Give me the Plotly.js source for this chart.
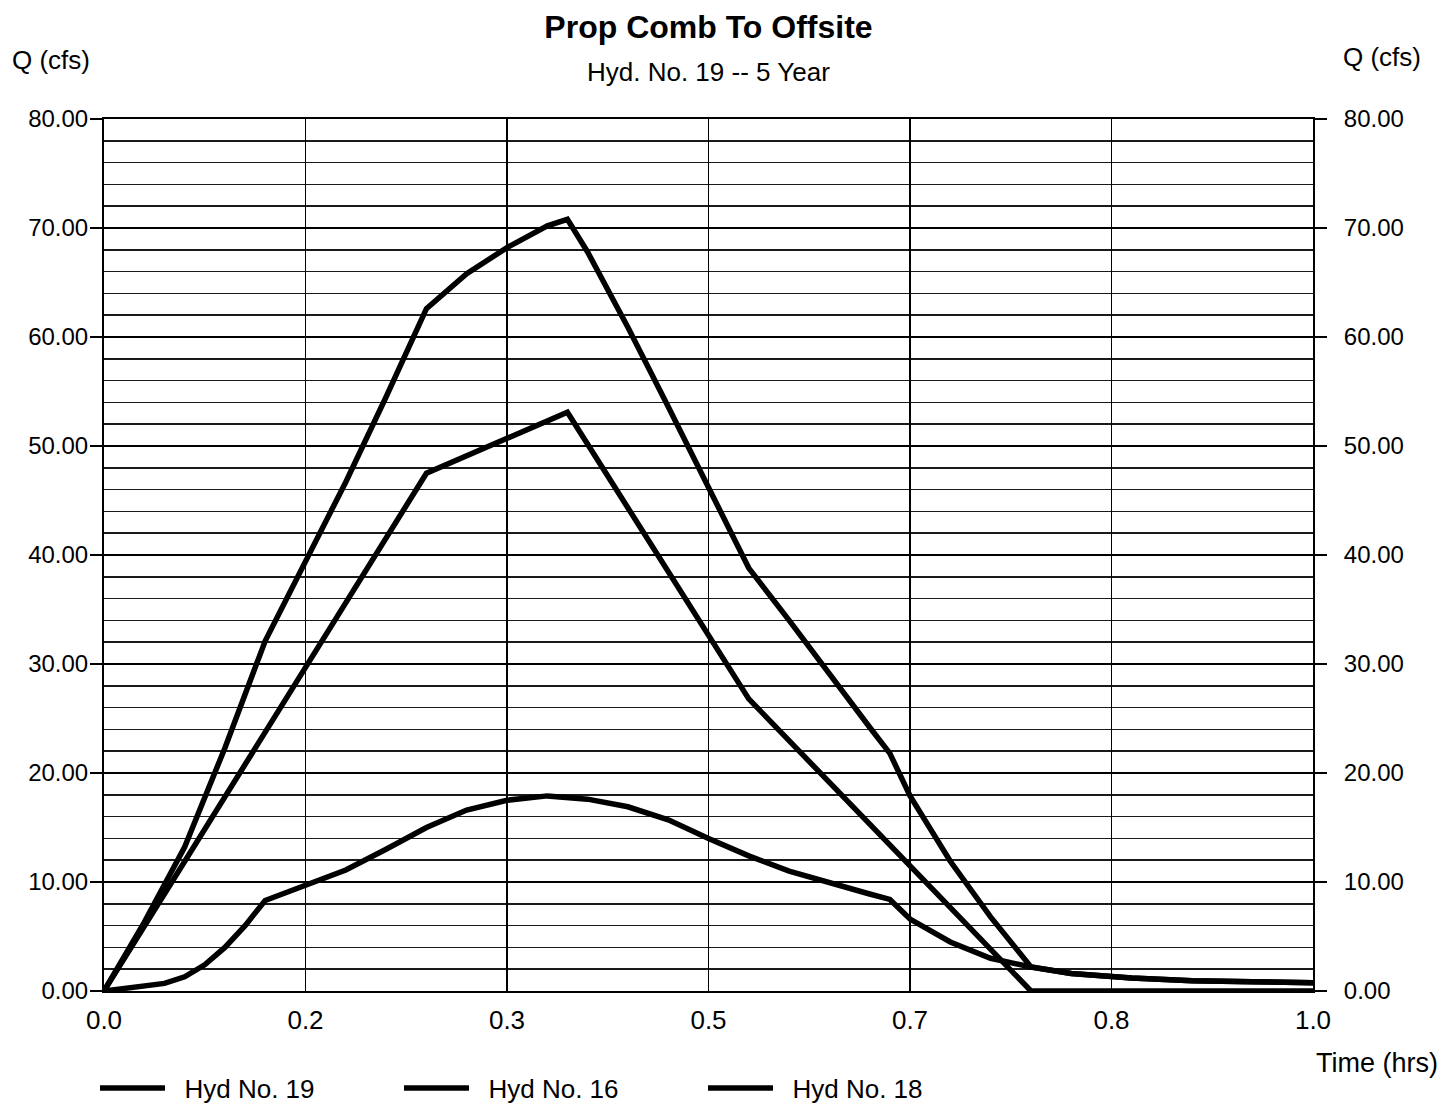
<!DOCTYPE html>
<html>
<head>
<meta charset="utf-8">
<script src="https://cdn.plot.ly/plotly-3.0.1.min.js"></script>
<style>
  html, body { margin: 0; padding: 0; background: #ffffff; }
  #chart { width: 1440px; height: 1104px; }
</style>
</head>
<body>
<div id="chart"></div>
<script>
// ---- Data ----
const seriesNames = ["Hyd No. 19", "Hyd No. 16", "Hyd No. 18"];

// Hyd No. 19 (combined)
const hours19 = [0, 0.0333, 0.0667, 0.1, 0.1333, 0.1667, 0.2, 0.2333, 0.2667, 0.3, 0.3333, 0.3667, 0.3833, 0.4, 0.4333, 0.4667, 0.5, 0.5333, 0.5667, 0.6, 0.6333, 0.65, 0.6667, 0.7, 0.7333, 0.7667, 0.8, 0.85, 0.9, 0.95, 1.0];
const q19 = [0, 6.3, 13.2, 22.3, 32.1, 39.3, 46.7, 54.5, 62.6, 65.8, 68.2, 70.2, 70.8, 67.8, 60.9, 53.6, 46.1, 38.8, 34.0, 29.0, 24.2, 21.8, 17.9, 11.9, 6.8, 2.2, 1.6, 1.2, 0.95, 0.85, 0.75];

// Hyd No. 16
const hours16 = [0, 0.2667, 0.3833, 0.5333, 0.7667, 1.0];
const q16 = [0, 47.5, 53.1, 26.8, 0, 0];

// Hyd No. 18
const hours18 = [0, 0.0167, 0.0333, 0.05, 0.0667, 0.0833, 0.1, 0.1167, 0.1333, 0.15, 0.1667, 0.2, 0.2333, 0.2667, 0.3, 0.3333, 0.3667, 0.4, 0.4333, 0.4667, 0.5, 0.5333, 0.5667, 0.6, 0.6333, 0.65, 0.6667, 0.7, 0.7333, 0.7667, 0.8, 0.85, 0.9, 0.95, 1.0];
const q18 = [0, 0.2, 0.4, 0.7, 1.3, 2.4, 4.0, 6.0, 8.3, 9.0, 9.6, 11.1, 13.0, 15.0, 16.6, 17.5, 17.9, 17.6, 16.9, 15.7, 14.0, 12.4, 11.0, 9.9, 8.9, 8.4, 6.6, 4.5, 3.0, 2.2, 1.6, 1.2, 0.95, 0.85, 0.75];

// Axis ticks
const xTickVals = [0, 1/6, 2/6, 3/6, 4/6, 5/6, 1];
const xTickText = ["0.0", "0.2", "0.3", "0.5", "0.7", "0.8", "1.0"];
const yTickVals = [0, 10, 20, 30, 40, 50, 60, 70, 80];
const yTickText = ["0.00", "10.00", "20.00", "30.00", "40.00", "50.00", "60.00", "70.00", "80.00"];

// ---- Chart ----
const FONT = "Liberation Sans, Arial, Helvetica, sans-serif";
const lineStyle = { color: "#000000", width: 5.5 };
const PAD = "\u00a0\u00a0";

const traces = [
  { x: hours19, y: q19, name: PAD + seriesNames[0], type: "scatter", mode: "lines", line: lineStyle },
  { x: hours16, y: q16, name: PAD + seriesNames[1], type: "scatter", mode: "lines", line: lineStyle },
  { x: hours18, y: q18, name: PAD + seriesNames[2], type: "scatter", mode: "lines", line: lineStyle },
  { x: [0, 1], y: [0, 80], yaxis: "y2", type: "scatter", mode: "lines", line: { width: 0, color: "rgba(0,0,0,0)" }, showlegend: false, hoverinfo: "skip" }
];

const yCommon = {
  range: [0, 80],
  tickmode: "array",
  tickvals: yTickVals,
  ticktext: yTickText,
  ticks: "outside",
  ticklen: 12,
  tickwidth: 1.5,
  tickcolor: "#000000",
  tickfont: { family: FONT, size: 24, color: "#000000" },
  zeroline: false,
  automargin: false,
  fixedrange: true
};

const layout = {
  width: 1440,
  height: 1104,
  paper_bgcolor: "#ffffff",
  plot_bgcolor: "#ffffff",
  margin: { l: 104, r: 127, t: 119, b: 113, autoexpand: false },
  font: { family: FONT, color: "#000000" },
  title: {
    text: "<b>Prop Comb To Offsite</b>",
    font: { family: FONT, size: 32, color: "#000000" },
    x: 0.5, xref: "paper", xanchor: "center",
    y: 1 - 27 / 1104, yref: "container", yanchor: "middle"
  },
  xaxis: {
    range: [0, 1],
    tickmode: "array",
    tickvals: xTickVals,
    ticktext: xTickText,
    ticks: "",
    ticklabelstandoff: 5,
    showgrid: true,
    gridcolor: "#000000",
    gridwidth: 1.5,
    showline: true,
    linecolor: "#000000",
    linewidth: 2,
    mirror: true,
    zeroline: false,
    automargin: false,
    tickfont: { family: FONT, size: 26, color: "#000000" },
    fixedrange: true
  },
  yaxis: Object.assign({}, yCommon, {
    side: "left",
    ticklabelstandoff: -3,
    showgrid: true,
    gridcolor: "#000000",
    gridwidth: 1.5,
    minor: { dtick: 2, showgrid: true, gridcolor: "#1a1a1a", gridwidth: 1.5, ticks: "" },
    showline: true,
    linecolor: "#000000",
    linewidth: 2
  }),
  yaxis2: Object.assign({}, yCommon, {
    overlaying: "y",
    side: "right",
    ticklabelstandoff: 12,
    showgrid: false,
    showline: true,
    linecolor: "#000000",
    linewidth: 2
  }),
  showlegend: true,
  legend: {
    orientation: "h",
    x: 95 / 1440, xref: "container", xanchor: "left",
    y: 1 - 1088 / 1104, yref: "container", yanchor: "middle",
    entrywidth: 224, entrywidthmode: "pixels",
    itemwidth: 65,
    font: { family: FONT, size: 26, color: "#000000" },
    bgcolor: "rgba(0,0,0,0)",
    borderwidth: 0
  },
  annotations: [
    { text: "Hyd. No. 19 -- 5 Year", xref: "paper", yref: "paper", x: 0.5, y: (991 - 72) / 872, xanchor: "center", yanchor: "middle", showarrow: false, font: { family: FONT, size: 26, color: "#000000" } },
    { text: "Q (cfs)", xref: "paper", yref: "paper", x: (51 - 104) / 1209, y: (991 - 60) / 872, xanchor: "center", yanchor: "middle", showarrow: false, font: { family: FONT, size: 26, color: "#000000" } },
    { text: "Q (cfs)", xref: "paper", yref: "paper", x: (1382 - 104) / 1209, y: (991 - 57) / 872, xanchor: "center", yanchor: "middle", showarrow: false, font: { family: FONT, size: 26, color: "#000000" } },
    { text: "Time (hrs)", xref: "paper", yref: "paper", x: (1377 - 104) / 1209, y: (991 - 1063) / 872, xanchor: "center", yanchor: "middle", showarrow: false, font: { family: FONT, size: 27, color: "#000000" } }
  ]
};

Plotly.newPlot("chart", traces, layout, { displayModeBar: false, staticPlot: true });
</script>
</body>
</html>
